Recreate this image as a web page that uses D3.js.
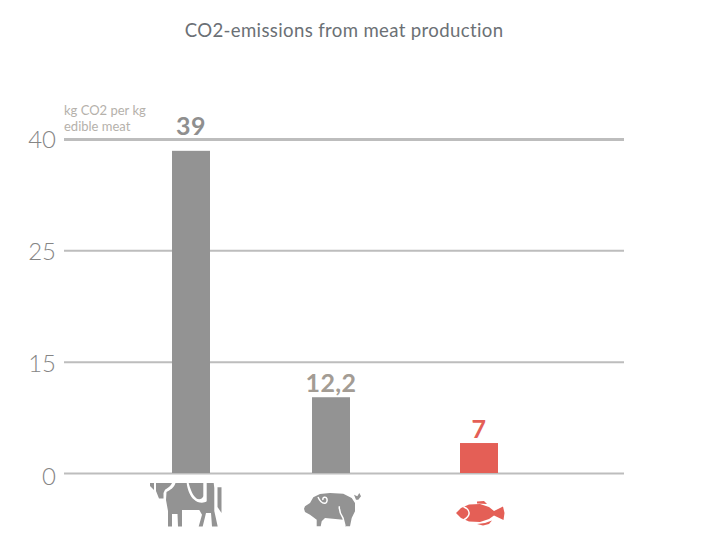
<!DOCTYPE html>
<html>
<head>
<meta charset="utf-8">
<script src="https://cdn.jsdelivr.net/npm/d3@7"></script>
<style>
  html, body { margin: 0; padding: 0; background: #fff; }
  text { font-family: Lato, "Open Sans", sans-serif; }
</style>
</head>
<body>
<div id="chart"></div>
<script>
var categories = ["Beef", "Pork", "Fish"];
var valueLabels = ["39", "12,2", "7"];
// bar heights as drawn in the picture, read against the 0-40 span of the axis
// (the original bars are not to scale with their printed labels)
var barLevels = [38.7, 9.1, 3.6];
var tickLabels = ["0", "15", "25", "40"];
var unitLines = ["kg CO2 per kg", "edible meat"];
var titleText = "CO2-emissions from meat production";

var width = 710, height = 542;

var svg = d3.select("#chart").append("svg")
    .attr("width", width)
    .attr("height", height)
    .style("display", "block");

var x = d3.scaleOrdinal().domain(categories).range([191, 331, 479]);
var y = d3.scaleLinear().domain([0, 40]).range([473, 140]);
// printed ticks are evenly spaced, whatever their numbers say
var yTicks = d3.scalePoint().domain(tickLabels).range([473, 139]);
// tick numbers drift a little from their lines in the original
var yLabels = d3.scalePoint().domain(tickLabels).range([476, 139]);

var barColor = d3.scaleOrdinal().domain(categories).range(["#939393", "#939393", "#e45f56"]);
var labelColor = d3.scaleOrdinal().domain(categories).range(["#8f8f8f", "#a39c94", "#e45f56"]);

svg.append("text")
    .attr("x", 344)
    .attr("y", 37)
    .attr("text-anchor", "middle")
    .attr("font-size", 18.6)
    .attr("letter-spacing", 0.35)
    .attr("fill", "#6b7075")
    .text(titleText);

// axis with full width grid lines
var axis = svg.append("g")
    .attr("transform", "translate(64,0)")
    .call(d3.axisLeft(yTicks).tickSize(-560).tickPadding(8));
axis.select(".domain").remove();
axis.selectAll("line")
    .attr("stroke", "#bdbdbd")
    .attr("stroke-width", function(d) { return d == "40" ? 3 : 2; });
axis.selectAll("text")
    .attr("font-size", 24)
    .attr("font-weight", 300)
    .attr("fill", "#858585")
    .attr("dy", "0.34em")
    .attr("y", function(d) { return yLabels(d) - yTicks(d); })
    .style("font-family", "Lato, sans-serif");

svg.selectAll("text.unit").data(unitLines).enter()
    .append("text")
    .attr("class", "unit")
    .attr("x", 64)
    .attr("y", function(d, i) { return 115 + i * 16; })
    .attr("font-size", 13)
    .attr("fill", "#b5b1ab")
    .text(function(d) { return d; });

// bars
svg.selectAll("rect.bar").data(categories).enter()
    .append("rect")
    .attr("class", "bar")
    .attr("x", function(d) { return x(d) - 19; })
    .attr("width", 38)
    .attr("y", function(d, i) { return y(barLevels[i]); })
    .attr("height", function(d, i) { return y(0) - y(barLevels[i]); })
    .attr("fill", function(d) { return barColor(d); });

// the tall bar has its label lifted over the top grid line
svg.selectAll("text.value").data(categories).enter()
    .append("text")
    .attr("class", "value")
    .attr("x", function(d) { return x(d); })
    .attr("y", function(d, i) {
        var top = y(barLevels[i]);
        return (top < y(36) ? y(40) : top) - 5;
    })
    .attr("text-anchor", "middle")
    .attr("font-size", 25)
    .attr("font-weight", 700)
    .attr("letter-spacing", 0.4)
    .attr("fill", function(d) { return labelColor(d); })
    .text(function(d, i) { return valueLabels[i]; });

// animal icons, paths are relative to the bar centre and the axis baseline
var iconShapes = {
    Beef: [
        "M-41,10 L-37,10 L-37,17 L-41,13 Z",
        "M-35,10 L-19,10 C-20,13 -23,15 -26,16.7 L-27.5,20 L-27.5,25.5 L-32,25.5 L-35,18 Z",
        "M-15.5,10 L-4.3,10 C-4,15 -1,24 3.3,26.7 C6,29.5 12,31 15.7,28.3 L15.7,10 L22.7,10 L23.3,15 L23.3,38 L26.7,53.5 L21,53.5 L20,40 L15,40 L11.7,53.5 L7.7,53.5 L11,41.7 L8.3,37 L-9,37 L-9,53.5 L-13,53.5 L-13.5,41 L-19,41 L-19,53.5 L-23,53.5 L-23,38 L-25,27 L-24.5,19 C-21,17 -17,15 -15.5,10 Z",
        "M-2.3,10 L12.3,10 L12.3,23.3 C11,27 6,27 4.3,24.3 C1,21 -1,15 -2.3,10 Z",
        "M26.5,14.3 L30.5,14.3 L30.5,40 L26.5,34 Z"
    ],
    Pork: [
        "M-27,35.7 L-26,33.3 L-21,30 L-17.7,24.3 L-11,21 L-1,20 L12.3,20.7 L20.7,25 L24,30 L24,38.3 L20.7,45 L19,53.3 L14,53.3 L12.3,46.7 L-6,45 L-9.3,48.3 L-10.3,53.3 L-14.3,53.3 L-14.3,46.7 L-21,41.7 L-26,39 Z",
        "M23,21.7 L26.3,23.3 L28.3,20 L30,23.3 L27.3,26.7 L25,26.7 Z"
    ],
    Fish: [
        "M-23,40 L-18,35 L-10,31.5 L1,31 L10,34 L15,38 L24,33.5 L25.5,40 L24.5,47 L15,42.5 L10,46 L1,49 L-10,48.5 L-18,45 Z",
        "M-2,28.5 L5,28 L8,31 L-2,30.5 Z",
        "M-2,51 L4,52.5 L10,51 L13,47.5 L6,50 Z"
    ]
};
// white cuts drawn over the shapes
var iconCuts = {
    Beef: [],
    Pork: [
        "M-13,24 C-9,33 -3,31 -4,26 C-5,23 -9,24 -8,27",
        "M8.3,33.3 C8,38 10,42 12,45 L14,53"
    ],
    Fish: [
        "M-15.5,33.7 C-8,37 -8,43 -15.5,47"
    ]
};

var icon = svg.selectAll("g.icon").data(categories).enter()
    .append("g")
    .attr("class", "icon")
    .attr("transform", function(d) { return "translate(" + x(d) + "," + y(0) + ")"; });

icon.selectAll("path.shape")
    .data(function(d) { return iconShapes[d].map(function(p) { return {p: p, c: barColor(d)}; }); })
    .enter()
    .append("path")
    .attr("class", "shape")
    .attr("fill", function(d) { return d.c; })
    .attr("d", function(d) { return d.p; });

icon.selectAll("path.cut")
    .data(function(d) { return iconCuts[d]; })
    .enter()
    .append("path")
    .attr("class", "cut")
    .attr("fill", "none")
    .attr("stroke", "#fff")
    .attr("stroke-width", 1.5)
    .attr("d", function(d) { return d; });
</script>
</body>
</html>
